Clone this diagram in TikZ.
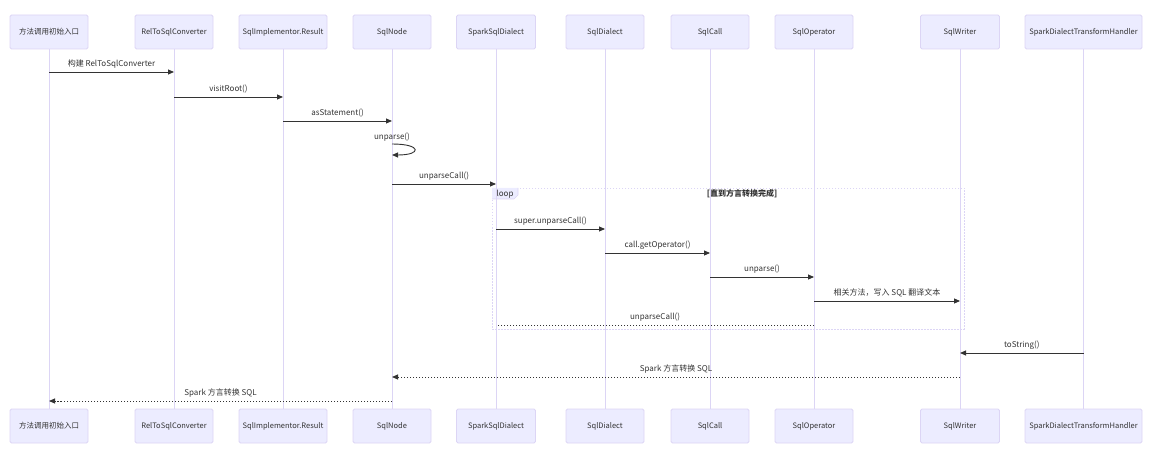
\documentclass[tikz,border=0pt]{standalone}
\usepackage{fontspec}
\setmainfont{Noto Sans CJK SC}
\usetikzlibrary{arrows.meta,calc}
\definecolor{actfill}{HTML}{ECECFF}
\definecolor{actline}{HTML}{DCD5F5}
\definecolor{txt}{HTML}{333333}
\tikzset{
  actor/.style={draw=actline, fill=actfill, rounded corners=1.5pt, minimum height=34pt, inner sep=0pt, font=\fontsize{7.5}{9}\selectfont, text=txt, line width=0.8pt},
  lifeline/.style={draw=actline, line width=1pt},
  msg/.style={draw=txt, line width=0.9pt, -{Triangle[length=6pt,width=5pt]}},
  dmsg/.style={draw=txt, line width=0.9pt, dash pattern=on 1.5pt off 1.5pt, -{Triangle[length=6pt,width=5pt]}},
  dline/.style={draw=txt, line width=0.9pt, dash pattern=on 1.5pt off 1.5pt},
  lbl/.style={font=\fontsize{8}{9}\selectfont, text=txt, inner sep=0pt},
}
\begin{document}
\begin{tikzpicture}[x=1pt,y=-1pt]
\useasboundingbox (0,0) rectangle (1155,454);
% loop box
\draw[actline, line width=0.8pt, dash pattern=on 1.5pt off 1.5pt] (492,188) rectangle (964,329);
\fill[actfill] (492,188) -- (518,188) -- (518,195) -- (514,199) -- (492,199) -- cycle;
\draw[actline, line width=0.6pt] (518,188) -- (518,195) -- (514,199) -- (492,199);
\node[lbl] (looplbl) at (505,194) {loop};
\node[lbl, font=\fontsize{8}{9}\selectfont\bfseries] (loopcond) at (742,194) {[直到方言转换完成]};
% actors
\foreach \n/\x/\w/\t in {
  a/49/78/方法调用初始入口,
  b/174/78/RelToSqlConverter,
  c/283/88/SqlImplementor.Result,
  d/392/78/SqlNode,
  e/496/79/SparkSqlDialect,
  f/605/78/SqlDialect,
  g/710/78/SqlCall,
  h/814/78/SqlOperator,
  i/960/79/SqlWriter,
  j/1083.5/117/SparkDialectTransformHandler} {
  \node[actor, minimum width=\w pt] (\n) at (\x,32) {\t};
  \node[actor, minimum width=\w pt] (\n b) at (\x,426) {\t};
  \draw[lifeline] (\n.south) -- (\n b.north);
}
% message rows
\foreach \k/\y in {1/72,2/97,3/121,4a/144,4b/155,5/184,6/229,7/253,8/277,9/301,10/325,11/353,12/377,13/401} {
  \coordinate (y\k) at (0,\y);
}
\draw[msg] (a |- y1) -- node[lbl, above=3.5pt] {构建 RelToSqlConverter} (b |- y1);
\draw[msg] (b |- y2) -- node[lbl, above=3.5pt] {visitRoot()} (c |- y2);
\draw[msg] (c |- y3) -- node[lbl, above=3.5pt] {asStatement()} (d |- y3);
\coordinate (sl1) at ($(d |- y4a)+(30,0)$);
\coordinate (sl2) at ($(d |- y4b)+(30,0)$);
\draw[msg] (d |- y4a) .. controls (sl1) and (sl2) .. (d |- y4b);
\node[lbl] (selflbl) at (392,137) {unparse()};
\draw[msg] (d |- y5) -- node[lbl, above=3.5pt] {unparseCall()} (e |- y5);
\draw[msg] (e |- y6) -- node[lbl, above=3.5pt] {super.unparseCall()} (f |- y6);
\draw[msg] (f |- y7) -- node[lbl, above=3.5pt] {call.getOperator()} (g |- y7);
\draw[msg] (g |- y8) -- node[lbl, above=3.5pt] {unparse()} (h |- y8);
\draw[msg] (h |- y9) -- node[lbl, above=3.5pt] {相关方法，写入 SQL 翻译文本} (i |- y9);
\draw[dline] (h |- y10) -- node[lbl, above=3.5pt] {unparseCall()} (e |- y10);
\draw[msg] (j |- y11) -- node[lbl, above=3.5pt] {toString()} (i |- y11);
\draw[dmsg] (i |- y12) -- node[lbl, above=3.5pt] {Spark 方言转换 SQL} (d |- y12);
\draw[dmsg] (d |- y13) -- node[lbl, above=3.5pt] {Spark 方言转换 SQL} (a |- y13);
\end{tikzpicture}
\end{document}
